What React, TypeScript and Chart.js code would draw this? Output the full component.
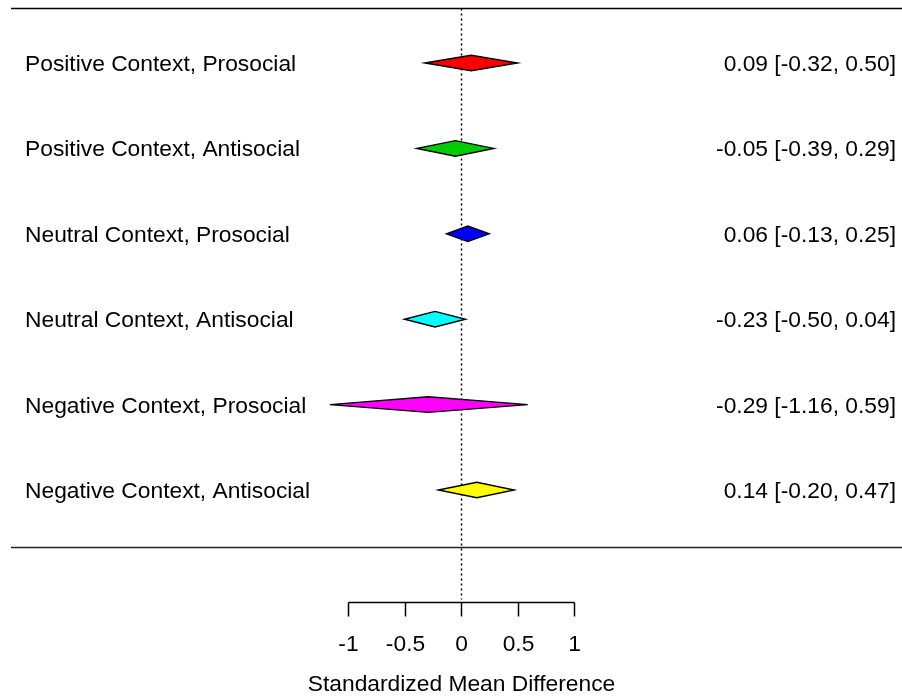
import React, { useEffect, useRef } from "react";
import { Chart, registerables } from "chart.js";

Chart.register(...registerables);

// ---- Data ----
const studyLabels = [
  "Positive Context, Prosocial",
  "Positive Context, Antisocial",
  "Neutral Context, Prosocial",
  "Neutral Context, Antisocial",
  "Negative Context, Prosocial",
  "Negative Context, Antisocial",
];
const estimates = [0.09, -0.05, 0.06, -0.23, -0.29, 0.14];
const lowerCI = [-0.32, -0.39, -0.13, -0.5, -1.16, -0.2];
const upperCI = [0.5, 0.29, 0.25, 0.04, 0.59, 0.47];
const rowPositions = [6, 5, 4, 3, 2, 1];
const axisTicks = [-1, -0.5, 0, 0.5, 1];
const axisTickLabels = ["-1", "-0.5", "0", "0.5", "1"];
const diamondColors = ["#FF0000", "#00CD00", "#0000FF", "#00FFFF", "#FF00FF", "#FFFF00"];
const xTitle = "Standardized Mean Difference";

// ---- Layout (data units of the hidden scales) ----
const X_MIN = -461 / 113;
const X_MAX = 441 / 113;
const ROW_PX = 85.4;
const Y_MAX = 1 + 490 / ROW_PX;
const Y_MIN = 1 - 210 / ROW_PX;
const TOP_LINE_Y = 1 + 482.5 / ROW_PX;
const BOTTOM_LINE_Y = 1 - 56.5 / ROW_PX;
const AXIS_Y = 1 - 112 / ROW_PX;

const FONT = '22.8px "Liberation Sans", Arial, Helvetica, sans-serif';
const CAP_HALF = 8;

const forestPlugin = {
  id: "forestPlugin",
  afterDraw(chart: any) {
    const ctx = chart.ctx as CanvasRenderingContext2D;
    const xs = chart.scales.x;
    const ys = chart.scales.y;
    const W = chart.width;
    ctx.save();

    // horizontal lines
    ctx.strokeStyle = "#000";
    ctx.lineWidth = 1.5;
    const yTop = Math.round(ys.getPixelForValue(TOP_LINE_Y)) + 0.5;
    ctx.beginPath();
    ctx.moveTo(11, yTop);
    ctx.lineTo(W, yTop);
    ctx.stroke();
    const yBot = Math.round(ys.getPixelForValue(BOTTOM_LINE_Y)) + 0.5;
    ctx.strokeStyle = "#222";
    ctx.lineWidth = 1.3;
    ctx.beginPath();
    ctx.moveTo(11, yBot);
    ctx.lineTo(W, yBot);
    ctx.stroke();

    // reference dotted line at 0
    const yAxis = Math.round(ys.getPixelForValue(AXIS_Y)) + 0.5;
    const x0 = Math.round(xs.getPixelForValue(0)) + 0.5;
    ctx.strokeStyle = "#000";
    ctx.lineWidth = 1.5;
    ctx.setLineDash([2, 3]);
    ctx.beginPath();
    ctx.moveTo(x0, yTop);
    ctx.lineTo(x0, yAxis - 3);
    ctx.stroke();
    ctx.setLineDash([]);

    // diamonds
    ctx.lineWidth = 1.4;
    ctx.lineJoin = "miter";
    for (let i = 0; i < estimates.length; i++) {
      const yc = ys.getPixelForValue(rowPositions[i]);
      const xl = xs.getPixelForValue(lowerCI[i]);
      const xe = xs.getPixelForValue(estimates[i]);
      const xh = xs.getPixelForValue(upperCI[i]);
      const h = 7.8;
      ctx.beginPath();
      ctx.moveTo(xl, yc);
      ctx.lineTo(xe, yc - h);
      ctx.lineTo(xh, yc);
      ctx.lineTo(xe, yc + h);
      ctx.closePath();
      ctx.fillStyle = diamondColors[i];
      ctx.fill();
      ctx.strokeStyle = "#000";
      ctx.stroke();
    }

    // labels
    ctx.font = FONT;
    ctx.fillStyle = "#000";
    ctx.textBaseline = "alphabetic";
    for (let i = 0; i < studyLabels.length; i++) {
      const yc = ys.getPixelForValue(rowPositions[i]);
      ctx.textAlign = "left";
      ctx.fillText(studyLabels[i], 25, yc + CAP_HALF);
      ctx.textAlign = "right";
      const txt =
        estimates[i].toFixed(2) +
        " [" +
        lowerCI[i].toFixed(2) +
        ", " +
        upperCI[i].toFixed(2) +
        "]";
      ctx.fillText(txt, 896, yc + CAP_HALF);
    }

    // x axis
    const xa = xs.getPixelForValue(axisTicks[0]);
    const xb = xs.getPixelForValue(axisTicks[axisTicks.length - 1]);
    ctx.lineWidth = 1.5;
    ctx.beginPath();
    ctx.moveTo(Math.round(xa) + 0.5, yAxis);
    ctx.lineTo(Math.round(xb) + 0.5, yAxis);
    ctx.stroke();
    ctx.textAlign = "center";
    for (let i = 0; i < axisTicks.length; i++) {
      const xp = Math.round(xs.getPixelForValue(axisTicks[i])) + 0.5;
      ctx.beginPath();
      ctx.moveTo(xp, yAxis);
      ctx.lineTo(xp, yAxis + 14);
      ctx.stroke();
      ctx.fillText(axisTickLabels[i], xp, yAxis + 48);
    }
    ctx.fillText(xTitle, x0, yAxis + 88);

    ctx.restore();
  },
};

export default function App() {
  const canvasRef = useRef<HTMLCanvasElement | null>(null);

  useEffect(() => {
    if (!canvasRef.current) return;
    const chart = new Chart(canvasRef.current, {
      type: "scatter",
      data: {
        datasets: [
          {
            data: estimates.map((e, i) => ({ x: e, y: rowPositions[i] })),
            pointRadius: 0,
            showLine: false,
          },
        ],
      },
      options: {
        responsive: false,
        animation: false,
        devicePixelRatio: 1,
        layout: { padding: 0 },
        plugins: { legend: { display: false }, tooltip: { enabled: false } },
        scales: {
          x: { type: "linear", min: X_MIN, max: X_MAX, display: false },
          y: { type: "linear", min: Y_MIN, max: Y_MAX, display: false },
        },
      },
      plugins: [forestPlugin],
    });
    return () => chart.destroy();
  }, []);

  return (
    <div style={{ position: "fixed", left: 0, top: 0, width: 902, height: 700, background: "#fff" }}>
      <canvas ref={canvasRef} width={902} height={700} style={{ width: 902, height: 700 }} />
    </div>
  );
}
